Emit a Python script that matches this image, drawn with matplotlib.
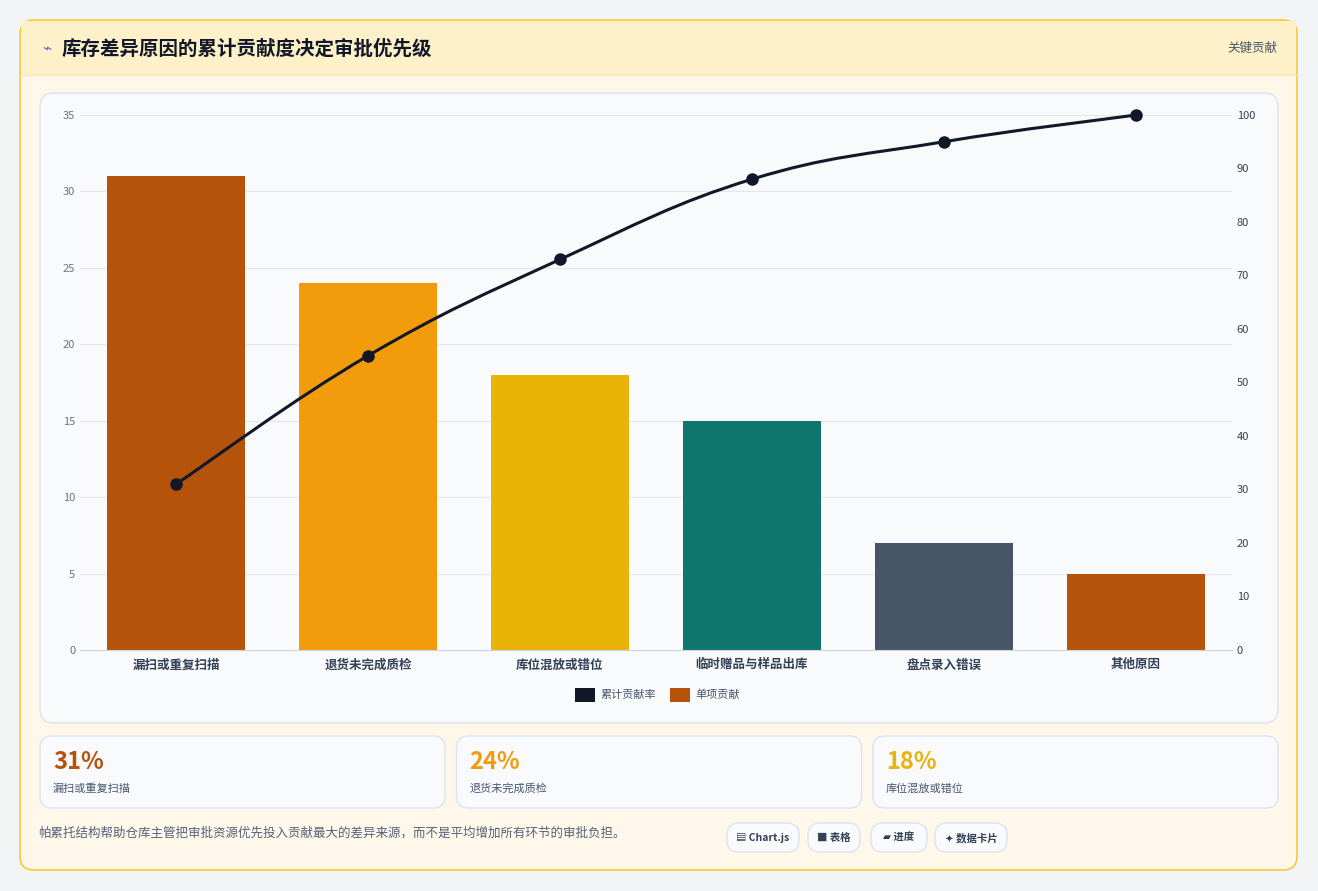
import matplotlib
matplotlib.use("Agg")
import matplotlib.pyplot as plt
import numpy as np
from matplotlib.patches import FancyBboxPatch, Rectangle
from matplotlib.path import Path
from matplotlib.patches import PathPatch

plt.rcParams['font.family'] = ['Noto Sans CJK SC', 'DejaVu Sans']

categories = ['漏扫或重复扫描', '退货未完成质检', '库位混放或错位', '临时赠品与样品出库', '盘点录入错误', '其他原因']
single = [31, 24, 18, 15, 7, 5]
cumulative = [31, 55, 73, 88, 95, 100]
bar_colors = ['#b45309', '#f39c0b', '#e9b308', '#0f766e', '#475569', '#b45309']
kpi_values = ['31%', '24%', '18%']
kpi_labels = ['漏扫或重复扫描', '退货未完成质检', '库位混放或错位']
kpi_colors = ['#b45309', '#f39c0b', '#e9b308']
chips = ['▤ Chart.js', '■ 表格', '▰ 进度', '✦ 数据卡片']

W, H = 1318, 891
fig = plt.figure(figsize=(W / 100, H / 100), dpi=100)
fig.patch.set_facecolor('#f3f4f6')
bg = fig.add_axes([0, 0, 1, 1])
bg.set_xlim(0, W)
bg.set_ylim(H, 0)
bg.axis('off')

def rbox(x, y, w, h, r, fc, ec, lw=1, z=1):
    bg.add_patch(FancyBboxPatch((x + r, y + r), w - 2 * r, h - 2 * r,
                                boxstyle=f"round,pad={r}", fc=fc, ec=ec, lw=lw, zorder=z))

rbox(20, 20, 1277, 850, 14, '#fff7ea', '#f6c938', 1.2)
bg.add_patch(Rectangle((21, 21), 1275, 54, fc='#fef0c8', ec='none', zorder=2))
bg.plot([21, 1296], [75, 75], color='#fde6b0', lw=1, zorder=3)
bg.text(42, 49, '⌁', fontsize=11, color='#6366f1', va='center', family=['DejaVu Sans'], zorder=4)
bg.text(62, 49, '库存差异原因的累计贡献度决定审批优先级', fontsize=14, fontweight='bold',
        color='#111827', va='center', zorder=4)
bg.text(1277, 48, '关键贡献', fontsize=9, color='#475569', va='center', ha='right', zorder=4)

rbox(40, 93, 1238, 630, 14, '#f9fafc', '#dbe3ee', 1, 2)
for i in range(3):
    x0 = 40 + i * 416.5
    rbox(x0, 736, 405, 72, 12, '#f8fafd', '#dbe4f0', 1, 2)
    bg.text(x0 + 13, 762, kpi_values[i], fontsize=17, fontweight='bold', color=kpi_colors[i],
            va='center', zorder=3)
    bg.text(x0 + 13, 789, kpi_labels[i], fontsize=8, color='#475569', va='center', zorder=3)

bg.text(38, 833, '帕累托结构帮助仓库主管把审批资源优先投入贡献最大的差异来源，而不是平均增加所有环节的审批负担。',
        fontsize=9, color='#52637a', va='center', zorder=3)
chip_x = [727, 808, 871, 935]
chip_w = [72, 52, 56, 72]
for cx, cw, t in zip(chip_x, chip_w, chips):
    rbox(cx, 823, cw, 29, 12, '#f8fafc', '#dbe4f0', 1, 2)
    bg.text(cx + cw / 2, 838, t, fontsize=7.5, fontweight='bold', color='#334155',
            ha='center', va='center', zorder=3, family=['Noto Sans CJK SC', 'DejaVu Sans'])

ax = fig.add_axes([80 / W, (H - 650) / H, 1152 / W, 535 / H])
ax.set_facecolor('none')
x = np.arange(len(categories))
ax.bar(x, single, width=0.72, color=bar_colors, zorder=2)
ax.set_xlim(-0.5, len(categories) - 0.5)
ax.set_ylim(0, 35)
ax.set_yticks(range(0, 36, 5))
ax.grid(axis='y', color='#e5e7eb', lw=0.8, zorder=0)
ax.set_xticks(x)
ax.set_xticklabels(categories, fontsize=9, fontweight='bold', color='#334155')
ax.tick_params(axis='y', labelsize=8, colors='#64748b', length=0)
ax.tick_params(axis='x', length=0, pad=6)
for s in ['top', 'right', 'left']:
    ax.spines[s].set_visible(False)
ax.spines['bottom'].set_color('#cbd5e1')

ax2 = ax.twinx()
ax2.set_ylim(0, 100)
ax2.set_yticks(range(0, 101, 10))
ax2.tick_params(axis='y', labelsize=8, colors='#334155', length=0)
for s in ax2.spines.values():
    s.set_visible(False)

# smooth curve through the points (catmull-rom to bezier)
pts = np.column_stack([x, cumulative]).astype(float)
verts = [tuple(pts[0])]
codes = [Path.MOVETO]
t = 0.4
for i in range(len(pts) - 1):
    p0 = pts[max(i - 1, 0)]
    p1 = pts[i]
    p2 = pts[i + 1]
    p3 = pts[min(i + 2, len(pts) - 1)]
    c1 = p1 + (p2 - p0) * t / 2
    c2 = p2 - (p3 - p1) * t / 2
    verts += [tuple(c1), tuple(c2), tuple(p2)]
    codes += [Path.CURVE4] * 3
ax2.add_patch(PathPatch(Path(verts, codes), fc='none', ec='#111827', lw=2.2, zorder=4, clip_on=False))
ax2.plot(x, cumulative, 'o', color='#111827', ms=8, zorder=5, clip_on=False)

bg.add_patch(Rectangle((575, 688), 20, 14, fc='#111827', ec='none', zorder=3))
bg.text(600, 695, '累计贡献率', fontsize=8, color='#475569', va='center', zorder=3)
bg.add_patch(Rectangle((670, 688), 20, 14, fc='#b45309', ec='none', zorder=3))
bg.text(695, 695, '单项贡献', fontsize=8, color='#475569', va='center', zorder=3)

fig.savefig('out.png', dpi=100)
